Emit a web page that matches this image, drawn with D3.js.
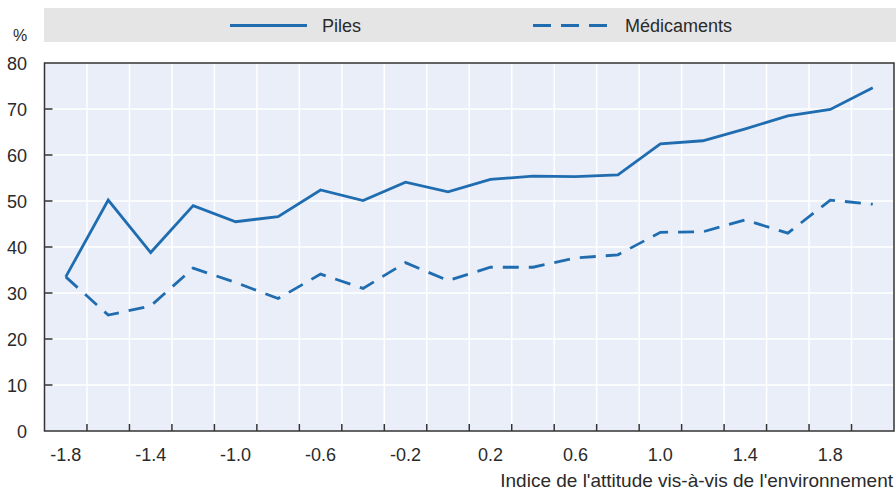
<!DOCTYPE html>
<html>
<head>
<meta charset="utf-8">
<script src="https://cdn.jsdelivr.net/npm/d3@7"></script>
<style>
  body { margin: 0; background: #fff; }
  text { font-family: "Liberation Sans Narrow", "Arial Narrow", "Liberation Sans", sans-serif; fill: #2a2a2a; }
</style>
</head>
<body>
<script>
var width = 896;
var height = 492;

// attitude index categories (x axis)
var categories = ["-1.8", "-1.6", "-1.4", "-1.2", "-1.0", "-0.8", "-0.6", "-0.4", "-0.2", "0.0",
  "0.2", "0.4", "0.6", "0.8", "1.0", "1.2", "1.4", "1.6", "1.8", "2.0"];
var tickLabels = ["-1.8", "-1.4", "-1.0", "-0.6", "-0.2", "0.2", "0.6", "1.0", "1.4", "1.8"];
var piles = [33.5, 50.2, 38.8, 49.0, 45.5, 46.6, 52.4, 50.1, 54.1, 52.0,
  54.7, 55.4, 55.3, 55.7, 62.4, 63.1, 65.7, 68.5, 69.9, 74.6];
var medicaments = [33.5, 25.2, 27.2, 35.4, 32.3, 28.8, 34.1, 31.0, 36.6, 32.7,
  35.6, 35.6, 37.6, 38.3, 43.2, 43.3, 45.9, 43.0, 50.2, 49.3];
var yTicks = [0, 10, 20, 30, 40, 50, 60, 70, 80];

var margin = { left: 44.5, right: 2, top: 63, bottom: 61 };
var lineColor = "#1f6db0";

var svg = d3.select("body").append("svg")
  .attr("width", width)
  .attr("height", height);

var x = d3.scaleBand().domain(categories).range([margin.left, width - margin.right]).padding(0);
var y = d3.scaleLinear().domain([0, 80]).range([height - margin.bottom, margin.top]);

// legend band
svg.append("rect")
  .attr("x", 44).attr("y", 8)
  .attr("width", width - 44).attr("height", 34)
  .attr("fill", "#e5e5e5");

var legend = [
  { name: "Piles", dash: null, x1: 230, x2: 307, tx: 322 },
  { name: "Médicaments", dash: "18,10", x1: 533, x2: 607, tx: 625 }
];
legend.forEach(function (d) {
  svg.append("line")
    .attr("x1", d.x1).attr("x2", d.x2)
    .attr("y1", 25.5).attr("y2", 25.5)
    .attr("stroke", lineColor).attr("stroke-width", 3)
    .attr("stroke-dasharray", d.dash);
  svg.append("text")
    .attr("x", d.tx).attr("y", 32)
    .style("font-size", "18px")
    .text(d.name);
});

// plot background
svg.append("rect")
  .attr("x", margin.left).attr("y", margin.top)
  .attr("width", width - margin.right - margin.left)
  .attr("height", y(0) - margin.top)
  .attr("fill", "#e9eef8");

// gridlines
svg.append("g").selectAll("line")
  .data(yTicks.slice(1, -1))
  .enter().append("line")
  .attr("x1", margin.left).attr("x2", width - margin.right)
  .attr("y1", function (d) { return y(d); })
  .attr("y2", function (d) { return y(d); })
  .attr("stroke", "#fff").attr("stroke-width", 1.5);

svg.append("g").selectAll("line")
  .data(categories.slice(1))
  .enter().append("line")
  .attr("x1", function (d) { return x(d); })
  .attr("x2", function (d) { return x(d); })
  .attr("y1", margin.top).attr("y2", y(0))
  .attr("stroke", "#fff").attr("stroke-width", 1.5);

// frame
svg.append("rect")
  .attr("x", margin.left).attr("y", margin.top)
  .attr("width", width - margin.right - margin.left)
  .attr("height", y(0) - margin.top)
  .attr("fill", "none")
  .attr("stroke", "#333").attr("stroke-width", 1.5);

// y ticks + labels
svg.append("g").selectAll("line")
  .data(yTicks.slice(1, -1))
  .enter().append("line")
  .attr("x1", margin.left).attr("x2", margin.left + 8)
  .attr("y1", function (d) { return y(d); })
  .attr("y2", function (d) { return y(d); })
  .attr("stroke", "#333").attr("stroke-width", 1.5);

svg.append("g").selectAll("text")
  .data(yTicks)
  .enter().append("text")
  .attr("x", 27)
  .attr("y", function (d) { return y(d) + 6.5; })
  .attr("text-anchor", "end")
  .style("font-size", "18px")
  .text(function (d) { return d; });

svg.append("text")
  .attr("x", 20).attr("y", 41)
  .attr("text-anchor", "middle")
  .style("font-size", "16px")
  .text("%");

// x ticks + labels
svg.append("g").selectAll("line")
  .data(categories.slice(1))
  .enter().append("line")
  .attr("x1", function (d) { return x(d); })
  .attr("x2", function (d) { return x(d); })
  .attr("y1", y(0)).attr("y2", y(0) - 7)
  .attr("stroke", "#333").attr("stroke-width", 1.5);

svg.append("g").selectAll("text")
  .data(tickLabels)
  .enter().append("text")
  .attr("x", function (d) { return x(d) + x.bandwidth() / 2; })
  .attr("y", 461)
  .attr("text-anchor", "middle")
  .style("font-size", "18px")
  .text(function (d) { return d; });

svg.append("text")
  .attr("x", 893).attr("y", 487)
  .attr("text-anchor", "end")
  .style("font-size", "19px")
  .text("Indice de l'attitude vis-à-vis de l'environnement");

// lines
var line = d3.line()
  .x(function (d, i) { return x(categories[i]) + x.bandwidth() / 2; })
  .y(function (d) { return y(d); });

svg.append("path")
  .datum(medicaments)
  .attr("d", line)
  .attr("fill", "none")
  .attr("stroke", lineColor).attr("stroke-width", 2.8)
  .attr("stroke-dasharray", "16,10");

svg.append("path")
  .datum(piles)
  .attr("d", line)
  .attr("fill", "none")
  .attr("stroke", lineColor).attr("stroke-width", 2.8);
</script>
</body>
</html>
